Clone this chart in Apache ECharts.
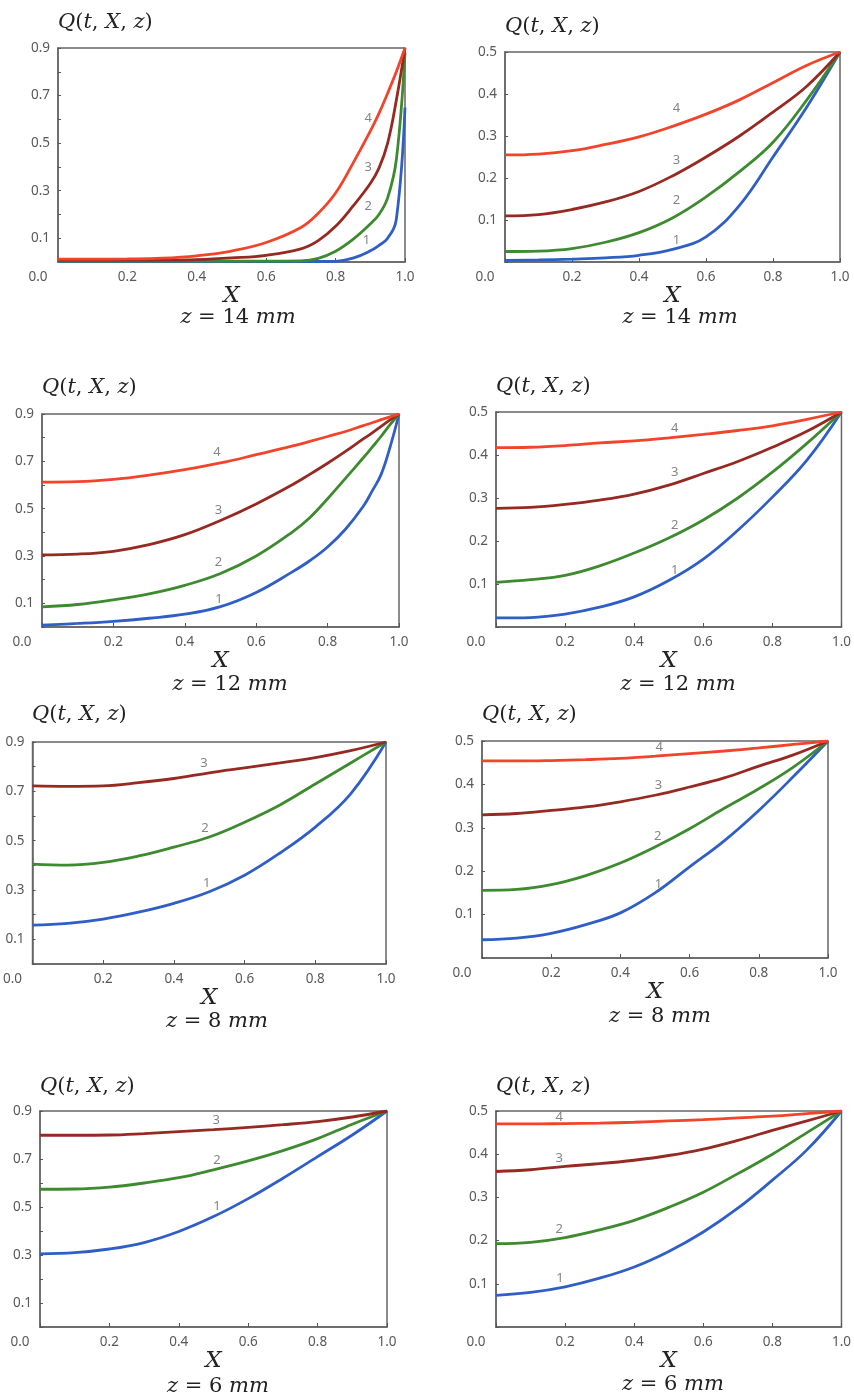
<!DOCTYPE html>
<html>
<head>
<meta charset="utf-8">
<script src="https://cdn.jsdelivr.net/npm/echarts@6/dist/echarts.min.js"></script>
<style>
  html, body { margin: 0; background: #fff; }
  #chart { width: 854px; height: 1397px; }
</style>
</head>
<body>
<div id="chart"></div>
<script>
// X grids: uniform one for most panels, a finer tail where curves turn up steeply
const X = [0, 0.1, 0.2, 0.3, 0.4, 0.5, 0.6, 0.7, 0.8, 0.9, 1.0];
const X_fine = [0, 0.1, 0.2, 0.3, 0.4, 0.5, 0.6, 0.7, 0.75, 0.8, 0.85, 0.9, 0.925, 0.95, 0.975, 1.0];

// z = 14 mm, left (on X_fine)
const p1_c1 = [0.002, 0.002, 0.002, 0.002, 0.002, 0.002, 0.002, 0.002, 0.002, 0.003, 0.016, 0.047, 0.07, 0.1, 0.18, 0.65];
const p1_c2 = [0.004, 0.004, 0.004, 0.004, 0.004, 0.004, 0.004, 0.005, 0.015, 0.045, 0.095, 0.16, 0.2, 0.27, 0.43, 0.88];
const p1_c3 = [0.008, 0.008, 0.008, 0.008, 0.01, 0.017, 0.028, 0.055, 0.09, 0.15, 0.235, 0.33, 0.395, 0.5, 0.68, 0.9];
const p1_c4 = [0.012, 0.012, 0.013, 0.016, 0.026, 0.046, 0.082, 0.145, 0.205, 0.29, 0.415, 0.55, 0.625, 0.71, 0.8, 0.9];
// z = 14 mm, right
const p2_c1 = [0.004, 0.005, 0.007, 0.01, 0.016, 0.03, 0.06, 0.135, 0.25, 0.368, 0.5];
const p2_c2 = [0.025, 0.026, 0.032, 0.047, 0.07, 0.105, 0.155, 0.215, 0.285, 0.385, 0.5];
const p2_c3 = [0.11, 0.113, 0.125, 0.143, 0.168, 0.205, 0.25, 0.3, 0.357, 0.418, 0.5];
const p2_c4 = [0.255, 0.257, 0.265, 0.28, 0.298, 0.323, 0.352, 0.386, 0.427, 0.468, 0.5];
// z = 12 mm, left (on X_fine)
const p3_c1 = [0.008, 0.015, 0.024, 0.037, 0.054, 0.086, 0.146, 0.232, 0.28, 0.338, 0.413, 0.51, 0.575, 0.645, 0.76, 0.9];
const p3_c2 = [0.085, 0.095, 0.115, 0.14, 0.176, 0.226, 0.3, 0.4, 0.462, 0.542, 0.628, 0.715, 0.76, 0.806, 0.855, 0.9];
const p3_c3 = [0.305, 0.308, 0.32, 0.348, 0.39, 0.45, 0.52, 0.6, 0.645, 0.692, 0.742, 0.795, 0.82, 0.848, 0.875, 0.9];
const p3_c4 = [0.612, 0.614, 0.624, 0.642, 0.665, 0.693, 0.728, 0.764, 0.784, 0.805, 0.826, 0.851, 0.863, 0.876, 0.888, 0.9];
// z = 12 mm, right
const p4_c1 = [0.021, 0.022, 0.03, 0.046, 0.07, 0.108, 0.158, 0.225, 0.302, 0.388, 0.5];
const p4_c2 = [0.104, 0.11, 0.12, 0.142, 0.172, 0.207, 0.249, 0.3, 0.36, 0.427, 0.5];
const p4_c3 = [0.276, 0.278, 0.285, 0.295, 0.309, 0.33, 0.357, 0.385, 0.418, 0.455, 0.5];
const p4_c4 = [0.417, 0.418, 0.422, 0.428, 0.433, 0.44, 0.448, 0.457, 0.468, 0.483, 0.5];
// z = 8 mm, left
const p5_c1 = [0.158, 0.165, 0.182, 0.21, 0.246, 0.293, 0.36, 0.45, 0.555, 0.69, 0.9];
const p5_c2 = [0.405, 0.401, 0.412, 0.438, 0.474, 0.515, 0.575, 0.645, 0.73, 0.815, 0.9];
const p5_c3 = [0.722, 0.72, 0.722, 0.735, 0.752, 0.775, 0.795, 0.815, 0.837, 0.865, 0.9];
// z = 8 mm, right
const p6_c1 = [0.042, 0.046, 0.057, 0.077, 0.104, 0.15, 0.21, 0.27, 0.34, 0.418, 0.5];
const p6_c2 = [0.156, 0.158, 0.169, 0.19, 0.219, 0.256, 0.298, 0.345, 0.39, 0.44, 0.5];
const p6_c3 = [0.33, 0.333, 0.34, 0.348, 0.36, 0.375, 0.394, 0.415, 0.442, 0.468, 0.5];
const p6_c4 = [0.454, 0.454, 0.455, 0.457, 0.46, 0.465, 0.471, 0.477, 0.484, 0.492, 0.5];
// z = 6 mm, left
const p7_c1 = [0.305, 0.31, 0.325, 0.352, 0.398, 0.46, 0.535, 0.62, 0.71, 0.8, 0.9];
const p7_c2 = [0.574, 0.575, 0.583, 0.6, 0.622, 0.655, 0.692, 0.735, 0.785, 0.845, 0.9];
const p7_c3 = [0.799, 0.799, 0.8, 0.806, 0.814, 0.822, 0.832, 0.843, 0.856, 0.875, 0.9];
// z = 6 mm, right
const p8_c1 = [0.073, 0.08, 0.093, 0.113, 0.139, 0.175, 0.22, 0.275, 0.34, 0.41, 0.5];
const p8_c2 = [0.193, 0.196, 0.207, 0.225, 0.247, 0.277, 0.312, 0.355, 0.4, 0.45, 0.5];
const p8_c3 = [0.36, 0.364, 0.372, 0.378, 0.386, 0.397, 0.412, 0.432, 0.455, 0.477, 0.5];
const p8_c4 = [0.47, 0.47, 0.471, 0.472, 0.474, 0.477, 0.48, 0.484, 0.488, 0.494, 0.5];

const curveColors = ['#2f5fc6', '#3d8a2f', '#962a22', '#f2432b'];

// layout: grid [left, top, width, height], curve number tags in data coords, text anchors in px
const panels = [
  { grid: [58, 48, 347, 214], yMax: 0.9, z: '14', xs: X_fine, curves: [p1_c1, p1_c2, p1_c3, p1_c4],
    tags: [[0.889, 0.093], [0.894, 0.233], [0.894, 0.40], [0.894, 0.604]], q: [58, 23], zl: [238, 318] },
  { grid: [505, 52, 335, 210], yMax: 0.5, z: '14', xs: X, curves: [p2_c1, p2_c2, p2_c3, p2_c4],
    tags: [[0.512, 0.052], [0.512, 0.147], [0.512, 0.242], [0.512, 0.367]], q: [505, 27], zl: [680, 318] },
  { grid: [42, 414, 357, 213], yMax: 0.9, z: '12', xs: X_fine, curves: [p3_c1, p3_c2, p3_c3, p3_c4],
    tags: [[0.496, 0.118], [0.494, 0.273], [0.494, 0.492], [0.49, 0.737]], q: [42, 388], zl: [230, 685] },
  { grid: [496, 412, 347, 215], yMax: 0.5, z: '12', xs: X, curves: [p4_c1, p4_c2, p4_c3, p4_c4],
    tags: [[0.517, 0.133], [0.517, 0.237], [0.517, 0.359], [0.517, 0.461]], q: [496, 387], zl: [678, 685] },
  { grid: [32, 742, 354, 222], yMax: 0.9, z: '8', xs: X, curves: [p5_c1, p5_c2, p5_c3],
    tags: [[0.493, 0.328], [0.488, 0.551], [0.485, 0.815]], q: [32, 715], zl: [217, 1022] },
  { grid: [482, 741, 346, 217], yMax: 0.5, z: '8', xs: X, curves: [p6_c1, p6_c2, p6_c3, p6_c4],
    tags: [[0.51, 0.169], [0.508, 0.28], [0.51, 0.399], [0.5125, 0.485]], q: [482, 715], zl: [660, 1017] },
  { grid: [40, 1111, 347, 216], yMax: 0.9, z: '6', xs: X, curves: [p7_c1, p7_c2, p7_c3],
    tags: [[0.51, 0.504], [0.51, 0.694], [0.508, 0.861]], q: [40, 1087], zl: [218, 1387] },
  { grid: [496, 1111, 347, 216], yMax: 0.5, z: '6', xs: X, curves: [p8_c1, p8_c2, p8_c3, p8_c4],
    tags: [[0.185, 0.112], [0.183, 0.226], [0.183, 0.39], [0.183, 0.485]], q: [496, 1087], zl: [673, 1385] }
];

const tickFont = { color: '#595959', fontSize: 13.5, fontFamily: 'Noto Sans' };
const serif = '"DejaVu Serif"';

const chart = echarts.init(document.getElementById('chart'));

const grids = [], xAxes = [], yAxes = [], series = [], graphics = [];

panels.forEach((p, i) => {
  grids.push({
    left: p.grid[0], top: p.grid[1], width: p.grid[2], height: p.grid[3],
    show: true, borderColor: '#666', borderWidth: 1.5
  });
  xAxes.push({
    type: 'value', gridIndex: i, min: 0, max: 1, interval: 0.2,
    name: 'X', nameLocation: 'middle', nameGap: 17,
    nameTextStyle: { fontFamily: serif, fontStyle: 'italic', fontSize: 23, color: '#222', verticalAlign: 'top' },
    axisLine: { lineStyle: { color: '#666', width: 1.5 } },
    axisTick: { inside: true, length: 4, lineStyle: { color: '#555' } },
    splitLine: { show: false },
    axisLabel: Object.assign({}, tickFont, {
      margin: 8,
      // the 0.0 label sits left of the frame corner
      formatter: v => (v === 0 ? '{o|0.0}' : v.toFixed(1)),
      rich: { o: Object.assign({}, tickFont, { padding: [0, 40, 0, 0] }) }
    })
  });
  yAxes.push({
    type: 'value', gridIndex: i, min: 0, max: p.yMax, interval: 0.1,
    axisLine: { show: true, lineStyle: { color: '#666', width: 1.5 } },
    axisTick: { show: true, inside: true, length: 3, lineStyle: { color: '#555' } },
    splitLine: { show: false },
    axisLabel: Object.assign({}, tickFont, {
      margin: 8,
      formatter: v => {
        const k = Math.round(v * 10);
        if (k === 0) return '';
        if (p.yMax > 0.6 && k % 2 === 0) return '';
        return (k / 10).toFixed(1);
      }
    })
  });

  p.curves.forEach((arr, k) => {
    series.push({
      type: 'line', xAxisIndex: i, yAxisIndex: i,
      data: p.xs.map((x, j) => [x, arr[j]]),
      smooth: 0.4, symbol: 'none',
      lineStyle: { color: curveColors[k], width: 2.8 },
      z: 2 + k, silent: true
    });
  });

  series.push({
    type: 'scatter', xAxisIndex: i, yAxisIndex: i,
    symbolSize: 1, itemStyle: { color: 'rgba(0,0,0,0)' },
    data: p.tags.map((t, k) => ({ value: t, name: String(k + 1) })),
    label: { show: true, position: 'inside', formatter: '{b}', color: '#666', fontSize: 13, fontFamily: 'Noto Sans' },
    z: 10, silent: true
  });

  graphics.push({
    type: 'text', x: p.q[0], y: p.q[1],
    style: {
      text: '{i|Q}({i|t}, {i|X}, {i|z})',
      font: '21px ' + serif, fill: '#222',
      textAlign: 'left', textVerticalAlign: 'middle',
      rich: { i: { fontFamily: serif, fontStyle: 'italic', fontSize: 21, color: '#222' } }
    }
  });
  graphics.push({
    type: 'text', x: p.zl[0], y: p.zl[1],
    style: {
      text: '{i|z} = ' + p.z + ' {i|mm}',
      font: '21px ' + serif, fill: '#222',
      textAlign: 'center', textVerticalAlign: 'middle',
      rich: { i: { fontFamily: serif, fontStyle: 'italic', fontSize: 21, color: '#222' } }
    }
  });
});

chart.setOption({
  animation: false,
  backgroundColor: '#fff',
  grid: grids,
  xAxis: xAxes,
  yAxis: yAxes,
  series: series,
  graphic: graphics
});
</script>
</body>
</html>
